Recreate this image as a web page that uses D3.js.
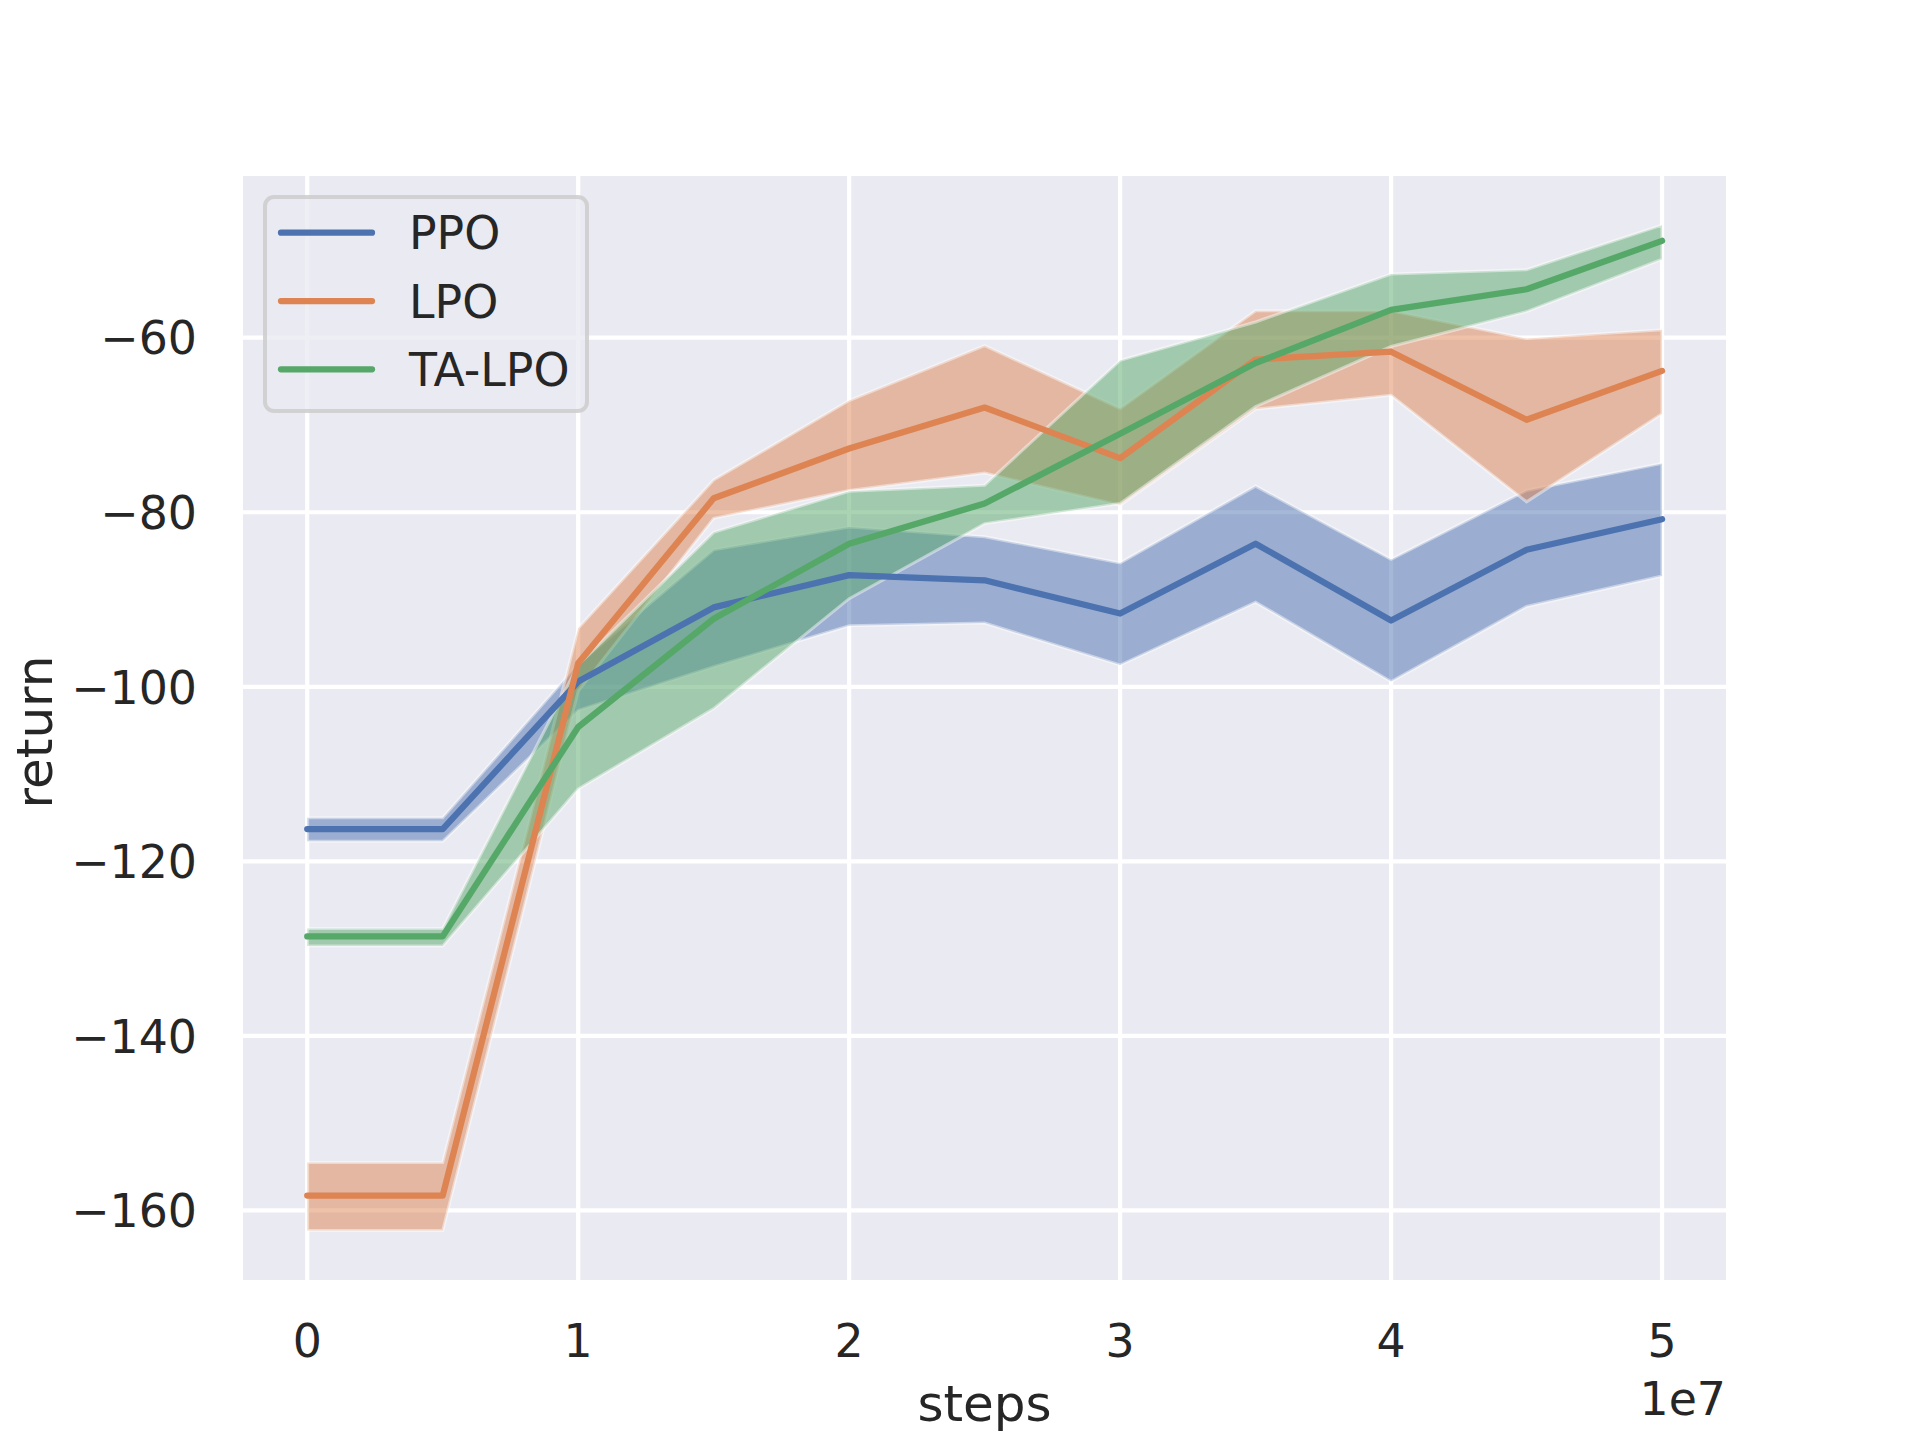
<!DOCTYPE html>
<html>
<head>
<meta charset="utf-8">
<script src="https://cdn.jsdelivr.net/npm/d3@7"></script>
<style>
  html, body { margin: 0; padding: 0; background: #ffffff; }
  svg { display: block; }
  text { font-family: "DejaVu Sans", sans-serif; fill: #262626; }
</style>
</head>
<body>
<svg id="chart" width="1920" height="1440"></svg>
<script>
// ---- data ----
const steps = [0, 5e6, 1e7, 1.5e7, 2e7, 2.5e7, 3e7, 3.5e7, 4e7, 4.5e7, 5e7];

const ppoMean  = [-116.3, -116.3, -99.4, -90.9, -87.2, -87.8, -91.6, -83.6, -92.4, -84.3, -80.8];
const ppoLower = [-117.7, -117.7, -102.7, -97.7, -93.0, -92.7, -97.5, -90.3, -99.4, -90.8, -87.3];
const ppoUpper = [-115.0, -115.0, -97.4, -84.3, -81.7, -82.8, -85.8, -77.0, -85.4, -77.5, -74.4];

const lpoMean  = [-158.3, -158.3, -97.3, -78.4, -72.7, -68.0, -73.8, -62.5, -61.6, -69.4, -63.8];
const lpoLower = [-162.3, -162.3, -100.5, -80.7, -77.5, -75.5, -79.2, -68.2, -66.6, -78.8, -68.7];
const lpoUpper = [-154.5, -154.5, -93.3, -76.3, -67.2, -60.9, -68.1, -56.9, -56.9, -60.1, -59.1];

const taMean  = [-128.6, -128.6, -104.6, -92.2, -83.6, -79.0, -71.0, -62.9, -56.8, -54.45, -48.9];
const taLower = [-129.7, -129.7, -111.7, -102.5, -89.9, -81.3, -79.0, -67.9, -61.0, -57.0, -51.0];
const taUpper = [-127.7, -127.7, -97.5, -82.3, -77.6, -76.9, -62.6, -58.2, -52.7, -52.2, -47.1];

const seriesNames = ["PPO", "LPO", "TA-LPO"];
const seriesColors = ["#4C72B0", "#DD8452", "#55A868"];

const xTicks = [0, 1e7, 2e7, 3e7, 4e7, 5e7];
const xTickLabels = ["0", "1", "2", "3", "4", "5"];
const yTicks = [-160, -140, -120, -100, -80, -60];
const xOffsetLabel = "1e7";
const xLabel = "steps";
const yLabel = "return";

// ---- layout ----
const plot = { left: 243, right: 1726, top: 176, bottom: 1280 };
const fontTick = 45.8;
const fontLabel = 50;

const svg = d3.select("#chart");

const x = d3.scaleLinear().domain([-0.237e7, 5.236e7]).range([plot.left, plot.right]);
const y = d3.scaleLinear().domain([-167.97, -41.47]).range([plot.bottom, plot.top]);

// background
svg.append("rect")
  .attr("x", plot.left).attr("y", plot.top)
  .attr("width", plot.right - plot.left).attr("height", plot.bottom - plot.top)
  .attr("fill", "#EAEAF2");

// grid
const grid = svg.append("g");
grid.selectAll("line.gx").data(xTicks).join("line")
  .attr("x1", d => x(d)).attr("x2", d => x(d))
  .attr("y1", plot.top).attr("y2", plot.bottom)
  .attr("stroke", "#ffffff").attr("stroke-width", 4.2);
grid.selectAll("line.gy").data(yTicks).join("line")
  .attr("y1", d => y(d)).attr("y2", d => y(d))
  .attr("x1", plot.left).attr("x2", plot.right)
  .attr("stroke", "#ffffff").attr("stroke-width", 4.2);

// data structure
const series = [
  { name: seriesNames[0], color: seriesColors[0], mean: ppoMean, lo: ppoLower, hi: ppoUpper },
  { name: seriesNames[1], color: seriesColors[1], mean: lpoMean, lo: lpoLower, hi: lpoUpper },
  { name: seriesNames[2], color: seriesColors[2], mean: taMean, lo: taLower, hi: taUpper }
];

const area = d3.area()
  .x((d, i) => x(steps[i]))
  .y0((d, i) => y(d.lo))
  .y1((d, i) => y(d.hi));

const line = d3.line()
  .x((d, i) => x(steps[i]))
  .y(d => y(d));

const clip = svg.append("clipPath").attr("id", "clip")
  .append("rect").attr("x", plot.left).attr("y", plot.top)
  .attr("width", plot.right - plot.left).attr("height", plot.bottom - plot.top);

const bands = svg.append("g").attr("clip-path", "url(#clip)");
series.forEach(s => {
  const pts = steps.map((st, i) => ({ lo: s.lo[i], hi: s.hi[i] }));
  bands.append("path")
    .attr("d", area(pts))
    .attr("fill", s.color).attr("fill-opacity", 0.5)
    .attr("stroke", "#ffffff").attr("stroke-opacity", 0.45)
    .attr("stroke-width", 3).attr("stroke-linejoin", "miter");
});

const lines = svg.append("g").attr("clip-path", "url(#clip)");
series.forEach(s => {
  lines.append("path")
    .attr("d", line(s.mean))
    .attr("fill", "none").attr("stroke", s.color)
    .attr("stroke-width", 6.25)
    .attr("stroke-linecap", "round").attr("stroke-linejoin", "round");
});

// x tick labels
svg.append("g").selectAll("text").data(xTicks).join("text")
  .attr("x", d => x(d)).attr("y", 1357)
  .attr("text-anchor", "middle").attr("font-size", fontTick)
  .text((d, i) => xTickLabels[i]);

// y tick labels
svg.append("g").selectAll("text").data(yTicks).join("text")
  .attr("x", 197).attr("y", d => y(d) + 16.7)
  .attr("text-anchor", "end").attr("font-size", fontTick)
  .text(d => d3.format("d")(d).replace("-", "\u2212"));

// offset text
svg.append("text")
  .attr("x", plot.right).attr("y", 1415)
  .attr("text-anchor", "end").attr("font-size", fontTick)
  .text(xOffsetLabel);

// axis labels
svg.append("text")
  .attr("x", (plot.left + plot.right) / 2).attr("y", 1421)
  .attr("text-anchor", "middle").attr("font-size", fontLabel)
  .text(xLabel);
svg.append("text")
  .attr("transform", "translate(52,732) rotate(-90)")
  .attr("text-anchor", "middle").attr("font-size", fontLabel)
  .text(yLabel);

// legend
const lg = svg.append("g");
lg.append("rect")
  .attr("x", 265).attr("y", 197).attr("width", 322).attr("height", 214)
  .attr("rx", 9).attr("ry", 9)
  .attr("fill", "#EAEAF2").attr("fill-opacity", 0.8)
  .attr("stroke", "#CCCCCC").attr("stroke-opacity", 0.85).attr("stroke-width", 4);
const rowY = [232.7, 301, 369.3];
series.forEach((s, i) => {
  lg.append("line")
    .attr("x1", 281).attr("x2", 372)
    .attr("y1", rowY[i]).attr("y2", rowY[i])
    .attr("stroke", s.color).attr("stroke-width", 6.25)
    .attr("stroke-linecap", "round");
  lg.append("text")
    .attr("x", 409).attr("y", rowY[i] + 16.7)
    .attr("font-size", fontTick)
    .text(s.name);
});
</script>
</body>
</html>
